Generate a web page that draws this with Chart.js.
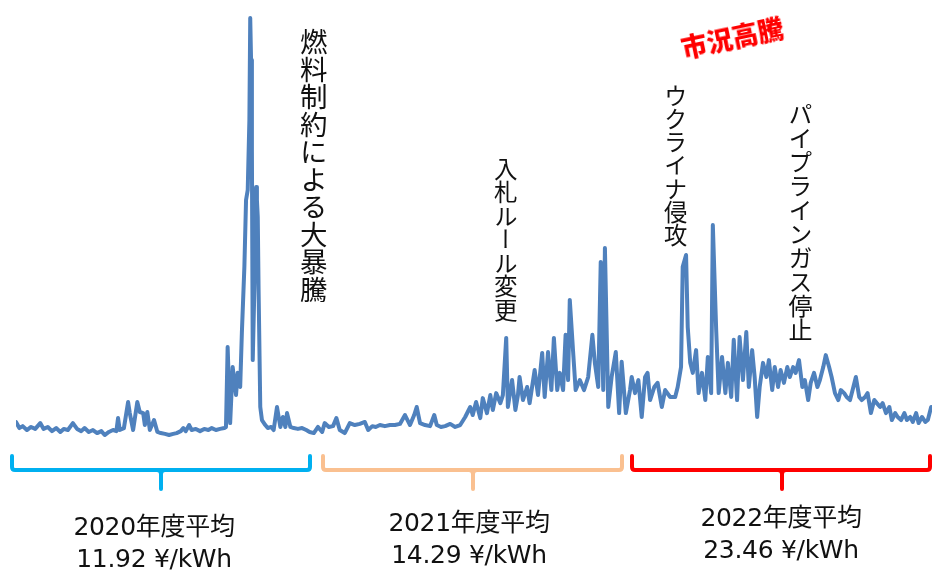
<!DOCTYPE html>
<html lang="ja">
<head>
<meta charset="utf-8">
<title>JEPX</title>
<script src="https://cdn.jsdelivr.net/npm/chart.js@4.4.1/dist/chart.umd.min.js"></script>
<style>
  html, body { margin: 0; padding: 0; background: #fff; }
  #wrap { position: relative; width: 933px; height: 572px; overflow: hidden; }
  #wrap canvas { position: absolute; left: 0; top: 0; }
  .note {
    position: absolute;
    writing-mode: vertical-rl;
    font-family: "Noto Sans CJK JP", sans-serif;
    color: #111;
    line-height: 1;
    white-space: nowrap;
  }
  .avg {
    position: absolute;
    width: 240px;
    text-align: center;
    font-family: "DejaVu Sans", "Noto Sans CJK JP", sans-serif;
    font-size: 25px;
    line-height: 32px;
    color: #111;
    letter-spacing: -0.3px;
  }
  #hot {
    position: absolute;
    font-family: "Noto Sans CJK JP", sans-serif;
    font-weight: 900;
    font-size: 26px;
    color: #ff0000;
    transform: rotate(-12deg);
    transform-origin: center;
    white-space: nowrap;
  }
</style>
</head>
<body>
<div id="wrap">
  <canvas id="priceChart" width="933" height="572"></canvas>
</div>
<script>
// days since 2020-04-01
const days = [
  0, 4, 8, 13, 18, 23, 29, 33, 38, 43, 48, 53, 57, 62, 68, 73, 78, 82, 87, 92,
  97, 102, 106, 111, 116, 120, 122, 124, 129, 134, 136, 140, 145, 148, 152, 154, 157, 160, 165, 169,
  173, 178, 183, 188, 192, 197, 200, 203, 207, 210, 215, 220, 225, 230, 234, 239, 244, 249, 251, 253,
  256, 259, 263, 265, 268, 270, 273, 275, 277, 279, 280, 281, 282, 283, 286, 287, 288, 289, 290, 292,
  294, 298, 301, 305, 308, 312, 316, 319, 322, 324, 328, 332, 337, 342, 347, 351, 356, 361, 366, 369,
  374, 379, 383, 387, 393, 399, 405, 411, 417, 421, 426, 430, 435, 441, 447, 453, 459, 465, 471, 476,
  479, 483, 489, 495, 500, 503, 508, 513, 519, 525, 531, 537, 543, 546, 550, 555, 558, 563, 567, 570,
  574, 579, 582, 586, 588, 593, 597, 600, 602, 606, 611, 614, 620, 624, 629, 632, 636, 640, 643, 647,
  650, 654, 657, 660, 662, 666, 669, 674, 679, 684, 689, 692, 696, 699, 702, 704, 708, 712, 717, 721,
  724, 729, 734, 736, 740, 744, 748, 752, 755, 758, 763, 767, 772, 776, 782, 788, 791, 795, 797, 801,
  803, 806, 809, 813, 816, 820, 824, 827, 831, 833, 837, 840, 844, 848, 851, 855, 858, 862, 865, 869,
  873, 876, 880, 883, 886, 889, 893, 897, 900, 904, 907, 911, 914, 918, 922, 925, 929, 932, 936, 940,
  943, 947, 950, 954, 958, 961, 965, 968, 972, 975, 979, 983, 986, 990, 993, 997, 1001, 1004, 1008, 1011,
  1015, 1018, 1022, 1026, 1029, 1033, 1036, 1040, 1044, 1047, 1051, 1054, 1058, 1062, 1065, 1069, 1072, 1076, 1079, 1083,
  1087, 1090, 1094
];

// system price, yen/kWh
const prices = [
  8.3, 6.1, 6.8, 5.4, 6.5, 5.8, 7.9, 5.8, 6.5, 5.0, 6.1, 4.7, 5.8, 5.4, 7.9, 5.8, 5.0, 6.1, 4.7, 5.4,
  4.3, 5.0, 3.6, 4.7, 5.4, 5.0, 9.7, 5.4, 6.1, 15.5, 11.5, 5.4, 15.5, 11.9, 11.5, 7.2, 11.9, 5.4, 9.0, 4.7,
  4.3, 4.0, 3.6, 4.0, 4.3, 5.0, 6.1, 5.0, 7.2, 5.4, 5.8, 5.0, 5.8, 5.4, 6.1, 5.4, 5.8, 6.1, 6.5, 35.3,
  7.9, 28.1, 18.0, 26.0, 20.9, 40.4, 64.2, 88.3, 91.9, 117.2, 153.9, 138.8, 106.3, 30.6, 70.3, 93.0, 88.3, 82.2, 55.9, 13.7,
  9.0, 7.2, 6.1, 6.5, 5.4, 13.7, 6.5, 10.1, 6.5, 11.5, 6.5, 6.1, 5.8, 6.1, 5.4, 4.7, 4.3, 6.5, 4.7, 7.9,
  6.5, 6.8, 9.7, 5.4, 4.3, 7.9, 7.2, 7.6, 8.3, 5.4, 6.8, 6.5, 7.2, 6.8, 7.2, 7.2, 7.6, 10.8, 7.2, 10.8,
  13.7, 7.9, 7.2, 6.8, 10.8, 7.2, 6.5, 6.8, 7.6, 6.5, 7.2, 10.1, 13.7, 10.8, 15.5, 9.7, 16.9, 11.5, 18.0, 12.6,
  18.7, 15.1, 18.0, 38.6, 13.7, 23.4, 12.6, 18.0, 24.5, 16.2, 20.9, 15.1, 27.0, 18.0, 33.2, 17.3, 33.5, 19.8, 38.6, 19.8,
  26.0, 19.8, 39.7, 23.4, 52.3, 33.5, 19.8, 23.4, 19.8, 24.5, 39.7, 29.6, 20.9, 66.0, 19.8, 71.0, 13.7, 24.5, 33.5, 11.5,
  30.0, 11.5, 19.8, 24.5, 18.7, 23.4, 10.1, 24.5, 26.0, 16.2, 20.9, 22.4, 13.7, 19.8, 17.3, 17.3, 20.9, 28.1, 64.2, 68.5,
  42.5, 29.6, 26.0, 34.2, 18.7, 26.0, 16.2, 31.7, 18.7, 79.3, 41.5, 18.7, 31.7, 18.7, 29.6, 17.3, 37.9, 16.2, 38.9, 23.4,
  40.7, 20.9, 34.2, 24.5, 10.1, 20.9, 29.6, 24.5, 30.6, 19.8, 28.1, 20.9, 27.0, 22.4, 28.1, 24.5, 28.1, 26.0, 30.6, 20.9,
  23.4, 16.2, 22.4, 26.0, 20.9, 23.4, 28.1, 32.4, 28.1, 24.5, 18.7, 16.2, 19.8, 18.7, 17.3, 16.2, 20.9, 24.5, 17.3, 16.2,
  17.3, 18.7, 11.5, 16.2, 15.1, 13.7, 15.1, 11.5, 13.7, 9.0, 11.5, 10.1, 9.0, 11.5, 9.0, 10.1, 8.3, 11.5, 7.9, 10.1,
  8.3, 9.0, 13.7
];

const yearLabels = ["2020年度平均", "2021年度平均", "2022年度平均"];
const yearAverages = ["11.92", "14.29", "23.46"];
const events = ["燃料制約による大暴騰", "入札ルール変更", "ウクライナ侵攻", "パイプラインガス停止"];
const phaseLabel = "市況高騰";

const wrap = document.getElementById("wrap");

// vertical event notes
const notePos = [
  { x: 313, y: 28, size: 27.5 },
  { x: 505, y: 157, size: 23.5 },
  { x: 675, y: 84, size: 23.3 },
  { x: 800, y: 102, size: 24 },
];
events.forEach((txt, i) => {
  const p = notePos[i];
  const d = document.createElement("div");
  d.className = "note";
  d.textContent = txt;
  d.style.fontSize = p.size + "px";
  d.style.left = (p.x - p.size / 2) + "px";
  d.style.top = p.y + "px";
  wrap.appendChild(d);
});

// red label
const hot = document.createElement("div");
hot.id = "hot";
hot.textContent = phaseLabel;
hot.style.left = "680px";
hot.style.top = "18px";
wrap.appendChild(hot);

// fiscal year averages
const avgPos = [
  { x: 154, y: 511 },
  { x: 469, y: 507 },
  { x: 781, y: 502 },
];
yearLabels.forEach((lbl, i) => {
  const d = document.createElement("div");
  d.className = "avg";
  d.innerHTML = lbl + "<br>" + yearAverages[i] + " ¥/kWh";
  d.style.left = (avgPos[i].x - 120) + "px";
  d.style.top = avgPos[i].y + "px";
  wrap.appendChild(d);
});

// brackets under each fiscal year
const brackets = [
  { l: 12, r: 310, m: 161, color: "#00b0f0" },
  { l: 323, r: 622, m: 473, color: "#fac090" },
  { l: 632, r: 930, m: 782, color: "#ff0000" },
];
const bracketPlugin = {
  id: "brackets",
  afterDraw(chart) {
    const c = chart.ctx;
    c.save();
    c.lineWidth = 4;
    c.lineCap = "round";
    c.lineJoin = "round";
    brackets.forEach((b) => {
      const top = 456, y = 470, r = 3;
      c.strokeStyle = b.color;
      c.beginPath();
      c.moveTo(b.l, top);
      c.lineTo(b.l, y - r);
      c.quadraticCurveTo(b.l, y, b.l + r, y);
      c.lineTo(b.r - r, y);
      c.quadraticCurveTo(b.r, y, b.r, y - r);
      c.lineTo(b.r, top);
      c.stroke();
      c.beginPath();
      c.moveTo(b.m - 4, y);
      c.quadraticCurveTo(b.m, y, b.m, y + 4);
      c.lineTo(b.m, 489);
      c.moveTo(b.m + 4, y);
      c.quadraticCurveTo(b.m, y, b.m, y + 4);
      c.stroke();
    });
    c.restore();
  },
};

const ctx = document.getElementById("priceChart").getContext("2d");
new Chart(ctx, {
  type: "line",
  data: {
    datasets: [
      {
        label: "システムプライス",
        data: days.map((d, i) => ({ x: d, y: prices[i] })),
        borderColor: "#4f81bd",
        borderWidth: 4,
        pointRadius: 0,
        tension: 0,
        borderJoinStyle: "round",
        borderCapStyle: "round",
        fill: false,
      },
    ],
  },
  options: {
    responsive: false,
    animation: false,
    layout: { padding: { left: 16, right: 1, top: 0, bottom: 127 } },
    plugins: {
      legend: { display: false },
      tooltip: { enabled: false },
    },
    scales: {
      x: { type: "linear", min: 0, max: 1095, display: false },
      y: { min: 0, max: 160.4, display: false },
    },
  },
  plugins: [bracketPlugin],
});
</script>
</body>
</html>
